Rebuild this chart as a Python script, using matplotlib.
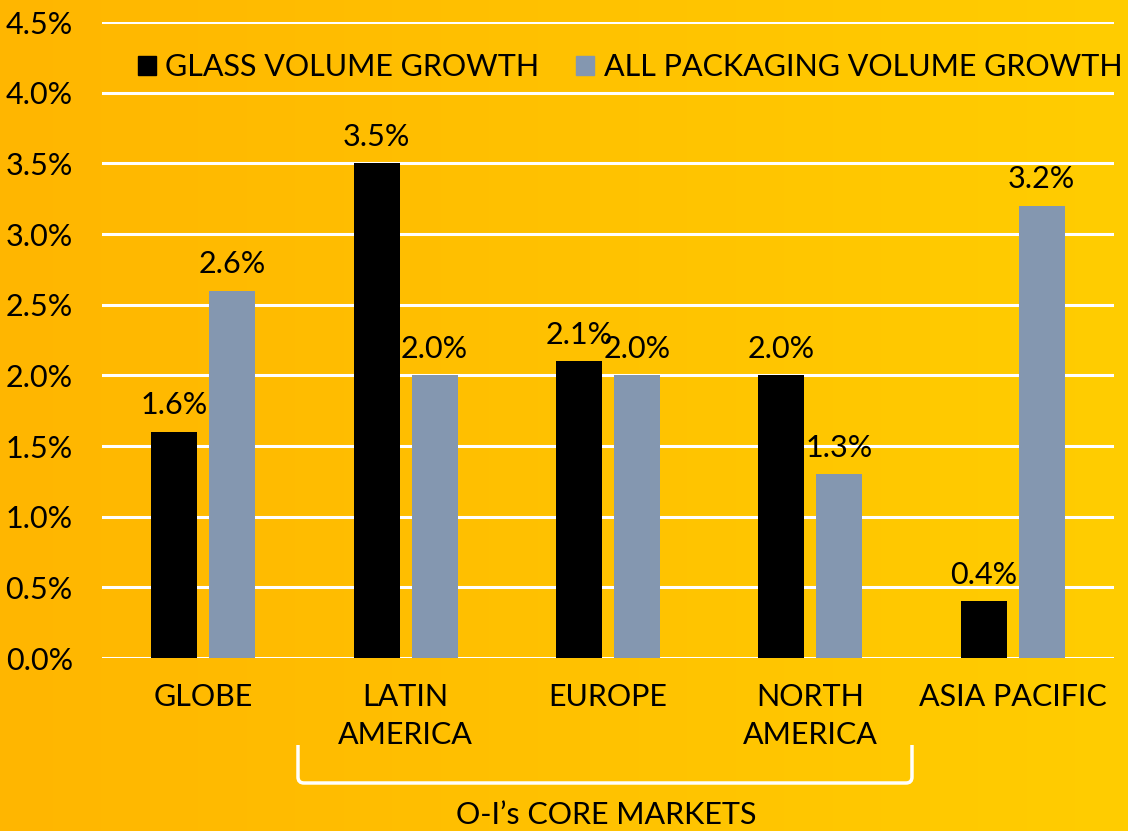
import numpy as np
import matplotlib
matplotlib.use("Agg")
import matplotlib.pyplot as plt
from matplotlib.patches import Patch
from matplotlib.path import Path
from matplotlib.patches import PathPatch

plt.rcParams['font.family'] = ['Lato', 'DejaVu Sans']

categories = ["GLOBE", "LATIN\nAMERICA", "EUROPE", "NORTH\nAMERICA", "ASIA PACIFIC"]
glass = [1.6, 3.5, 2.1, 2.0, 0.4]
packaging = [2.6, 2.0, 2.0, 1.3, 3.2]
yticks = [0.0, 0.5, 1.0, 1.5, 2.0, 2.5, 3.0, 3.5, 4.0, 4.5]
series_names = ["GLASS VOLUME GROWTH", "ALL PACKAGING VOLUME GROWTH"]
bracket_label = "O-I\u2019s CORE MARKETS"

FS = 22
W, H = 1128, 831
fig = plt.figure(figsize=(W / 100, H / 100), dpi=100)

# background gradient
bg = fig.add_axes([0, 0, 1, 1], zorder=-10)
grad = np.linspace(0, 1, 256)[None, :]
c0 = np.array([255, 182, 0]) / 255
c1 = np.array([255, 205, 0]) / 255
img = c0[None, None, :] * (1 - grad[..., None]) + c1[None, None, :] * grad[..., None]
bg.imshow(img, aspect='auto', extent=[0, 1, 0, 1])
bg.axis('off')

ax = fig.add_axes([102 / W, 1 - 658 / H, (1114 - 102) / W, (658 - 22) / H])
ax.patch.set_alpha(0)

x = np.arange(len(categories))
w = 0.227
off = 0.143
b1 = ax.bar(x - off, glass, w, color='black', zorder=3)
b2 = ax.bar(x + off, packaging, w, color='#8497B0', zorder=3)

for bars, vals in ((b1, glass), (b2, packaging)):
    for rect, v in zip(bars, vals):
        ax.annotate(f"{v:.1f}%", (rect.get_x() + rect.get_width() / 2, v),
                    xytext=(0, 9), textcoords='offset points',
                    ha='center', va='bottom', fontsize=FS, color='black')

ax.set_xlim(-0.5, len(categories) - 0.5)
ax.set_ylim(0, 4.5)
ax.set_yticks(yticks)
ax.set_yticklabels([f"{t:.1f}%" for t in yticks], fontsize=FS)
ax.set_xticks(x)
ax.set_xticklabels(categories, fontsize=FS, linespacing=1.45)
ax.tick_params(axis='both', length=0)
ax.tick_params(axis='y', pad=21)
ax.tick_params(axis='x', pad=18)
ax.grid(axis='y', color='white', linewidth=2.2, zorder=0)
for s in ax.spines.values():
    s.set_visible(False)

handles = [Patch(color='black'), Patch(color='#8497B0')]
fig.legend(handles, series_names, loc='center', bbox_to_anchor=(630 / W, 1 - 67 / H),
           ncol=2, frameon=False, fontsize=FS, handlelength=0.6, handleheight=0.6,
           handletextpad=0.3, columnspacing=1.2, borderpad=0, borderaxespad=0)

# bracket
bx0, bx1 = 298 / W, 912 / W
by0, by1 = 1 - 745 / H, 1 - 783 / H
r = 6 / H
rx = 6 / W
verts = [(bx0, by0), (bx0, by1 + r), (bx0, by1), (bx0 + rx, by1),
         (bx1 - rx, by1), (bx1, by1), (bx1, by1 + r), (bx1, by0)]
codes = [Path.MOVETO, Path.LINETO, Path.CURVE3, Path.CURVE3,
         Path.LINETO, Path.CURVE3, Path.CURVE3, Path.LINETO]
fig.patches.append(PathPatch(Path(verts, codes), transform=fig.transFigure,
                             fill=False, edgecolor='white', linewidth=2.5))
fig.text(606 / W, 1 - 815 / H, bracket_label, ha='center', va='center', fontsize=FS)

fig.savefig("out.png", dpi=100)
